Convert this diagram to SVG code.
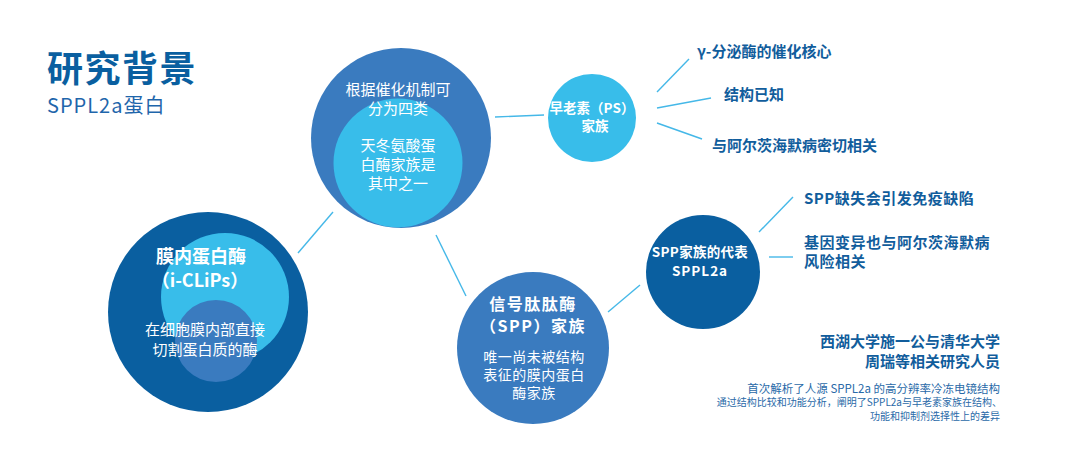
<svg xmlns="http://www.w3.org/2000/svg" width="1080" height="467" viewBox="0 0 1080 467">
<style>
text{font-family:"Noto Sans CJK SC","Noto Sans",sans-serif;}
.w{fill:#ffffff;text-anchor:middle;}
.wb{fill:#ffffff;text-anchor:middle;font-weight:700;}
.r{fill:#115d9c;font-weight:700;font-size:15px;}
.s{fill:#2a6aa8;text-anchor:end;}
.ln{stroke:#45b8e8;stroke-width:1.4;fill:none;}
.dark{fill:#0a5fa0;}
.mid{fill:#3a7bbf;}
.light{fill:#38bdea;}
</style>
<rect width="1080" height="467" fill="#ffffff"/>
<g id="title">
<text x="47" y="82" font-size="36" font-weight="700" fill="#0a5fa0" letter-spacing="1.5">研究背景</text>
<text x="47" y="113" font-size="20" fill="#1f66ab" letter-spacing="1">SPPL2a蛋白</text>
</g>
<g id="connectors">
<line class="ln" x1="298" y1="253" x2="333" y2="212"/>
<line class="ln" x1="495" y1="117" x2="544" y2="115"/>
<line class="ln" x1="436" y1="235" x2="466" y2="296"/>
<line class="ln" x1="608" y1="312" x2="640" y2="285"/>
<line class="ln" x1="657" y1="92" x2="689" y2="59"/>
<line class="ln" x1="657" y1="108" x2="711" y2="98"/>
<line class="ln" x1="657" y1="123" x2="702" y2="139"/>
<line class="ln" x1="759" y1="232" x2="793" y2="197"/>
<line class="ln" x1="769" y1="257" x2="793" y2="257"/>
</g>
<g id="node-iclips">
<circle class="dark" cx="208" cy="312" r="100"/>
<circle class="light" cx="225" cy="297" r="64"/>
<circle class="mid" cx="216" cy="341" r="41"/>
<text class="wb" x="201" y="263" font-size="18">膜内蛋白酶</text>
<text class="wb" x="200" y="287" font-size="18">（i-CLiPs）</text>
<text class="w" x="205" y="335" font-size="15">在细胞膜内部直接</text>
<text class="w" x="205" y="355" font-size="15">切割蛋白质的酶</text>
</g>
<g id="node-classes">
<circle class="mid" cx="401" cy="138" r="90"/>
<circle class="light" cx="398" cy="163" r="64.5"/>
<text class="w" x="398" y="95" font-size="15">根据催化机制可</text>
<text class="w" x="398" y="114" font-size="15">分为四类</text>
<text class="w" x="398" y="151" font-size="15">天冬氨酸蛋</text>
<text class="w" x="398" y="170" font-size="15">白酶家族是</text>
<text class="w" x="398" y="189" font-size="15">其中之一</text>
</g>
<g id="node-ps">
<circle class="light" cx="592" cy="118" r="44"/>
<text class="wb" x="592" y="113" font-size="13.5">早老素（PS）</text>
<text class="wb" x="595" y="131" font-size="13.5">家族</text>
</g>
<g id="node-spp">
<circle class="mid" cx="533" cy="348" r="76"/>
<text class="wb" x="533" y="310" font-size="16" letter-spacing="1.5">信号肽肽酶</text>
<text class="wb" x="533" y="332" font-size="16" letter-spacing="1.5">（SPP）家族</text>
<text class="w" x="534" y="362" font-size="14" letter-spacing="0.5">唯一尚未被结构</text>
<text class="w" x="534" y="380" font-size="14" letter-spacing="0.5">表征的膜内蛋白</text>
<text class="w" x="534" y="398" font-size="14" letter-spacing="0.5">酶家族</text>
</g>
<g id="node-sppl2a">
<circle class="dark" cx="703" cy="272" r="57"/>
<text class="wb" x="700" y="257" font-size="13.5" letter-spacing="0.3">SPP家族的代表</text>
<text class="wb" x="700" y="276" font-size="13.5" letter-spacing="1">SPPL2a</text>
</g>
<g id="ps-notes">
<text class="r" x="697" y="57">γ-分泌酶的催化核心</text>
<text class="r" x="724" y="100">结构已知</text>
<text class="r" x="712" y="151">与阿尔茨海默病密切相关</text>
</g>
<g id="sppl2a-notes">
<text class="r" x="804" y="204" letter-spacing="0.5">SPP缺失会引发免疫缺陷</text>
<text class="r" x="804" y="248" letter-spacing="0.5">基因变异也与阿尔茨海默病</text>
<text class="r" x="804" y="267" letter-spacing="0.5">风险相关</text>
</g>
<g id="credits">
<text class="r" x="1000" y="347" text-anchor="end" font-size="15.5">西湖大学施一公与清华大学</text>
<text class="r" x="1000" y="367" text-anchor="end" font-size="15.5">周瑞等相关研究人员</text>
<text class="s" x="1000" y="393" font-size="11.5">首次解析了人源 SPPL2a 的高分辨率冷冻电镜结构</text>
<text class="s" x="1002" y="406" font-size="10">通过结构比较和功能分析，阐明了SPPL2a与早老素家族在结构、</text>
<text class="s" x="1000" y="420" font-size="10">功能和抑制剂选择性上的差异</text>
</g>
</svg>
